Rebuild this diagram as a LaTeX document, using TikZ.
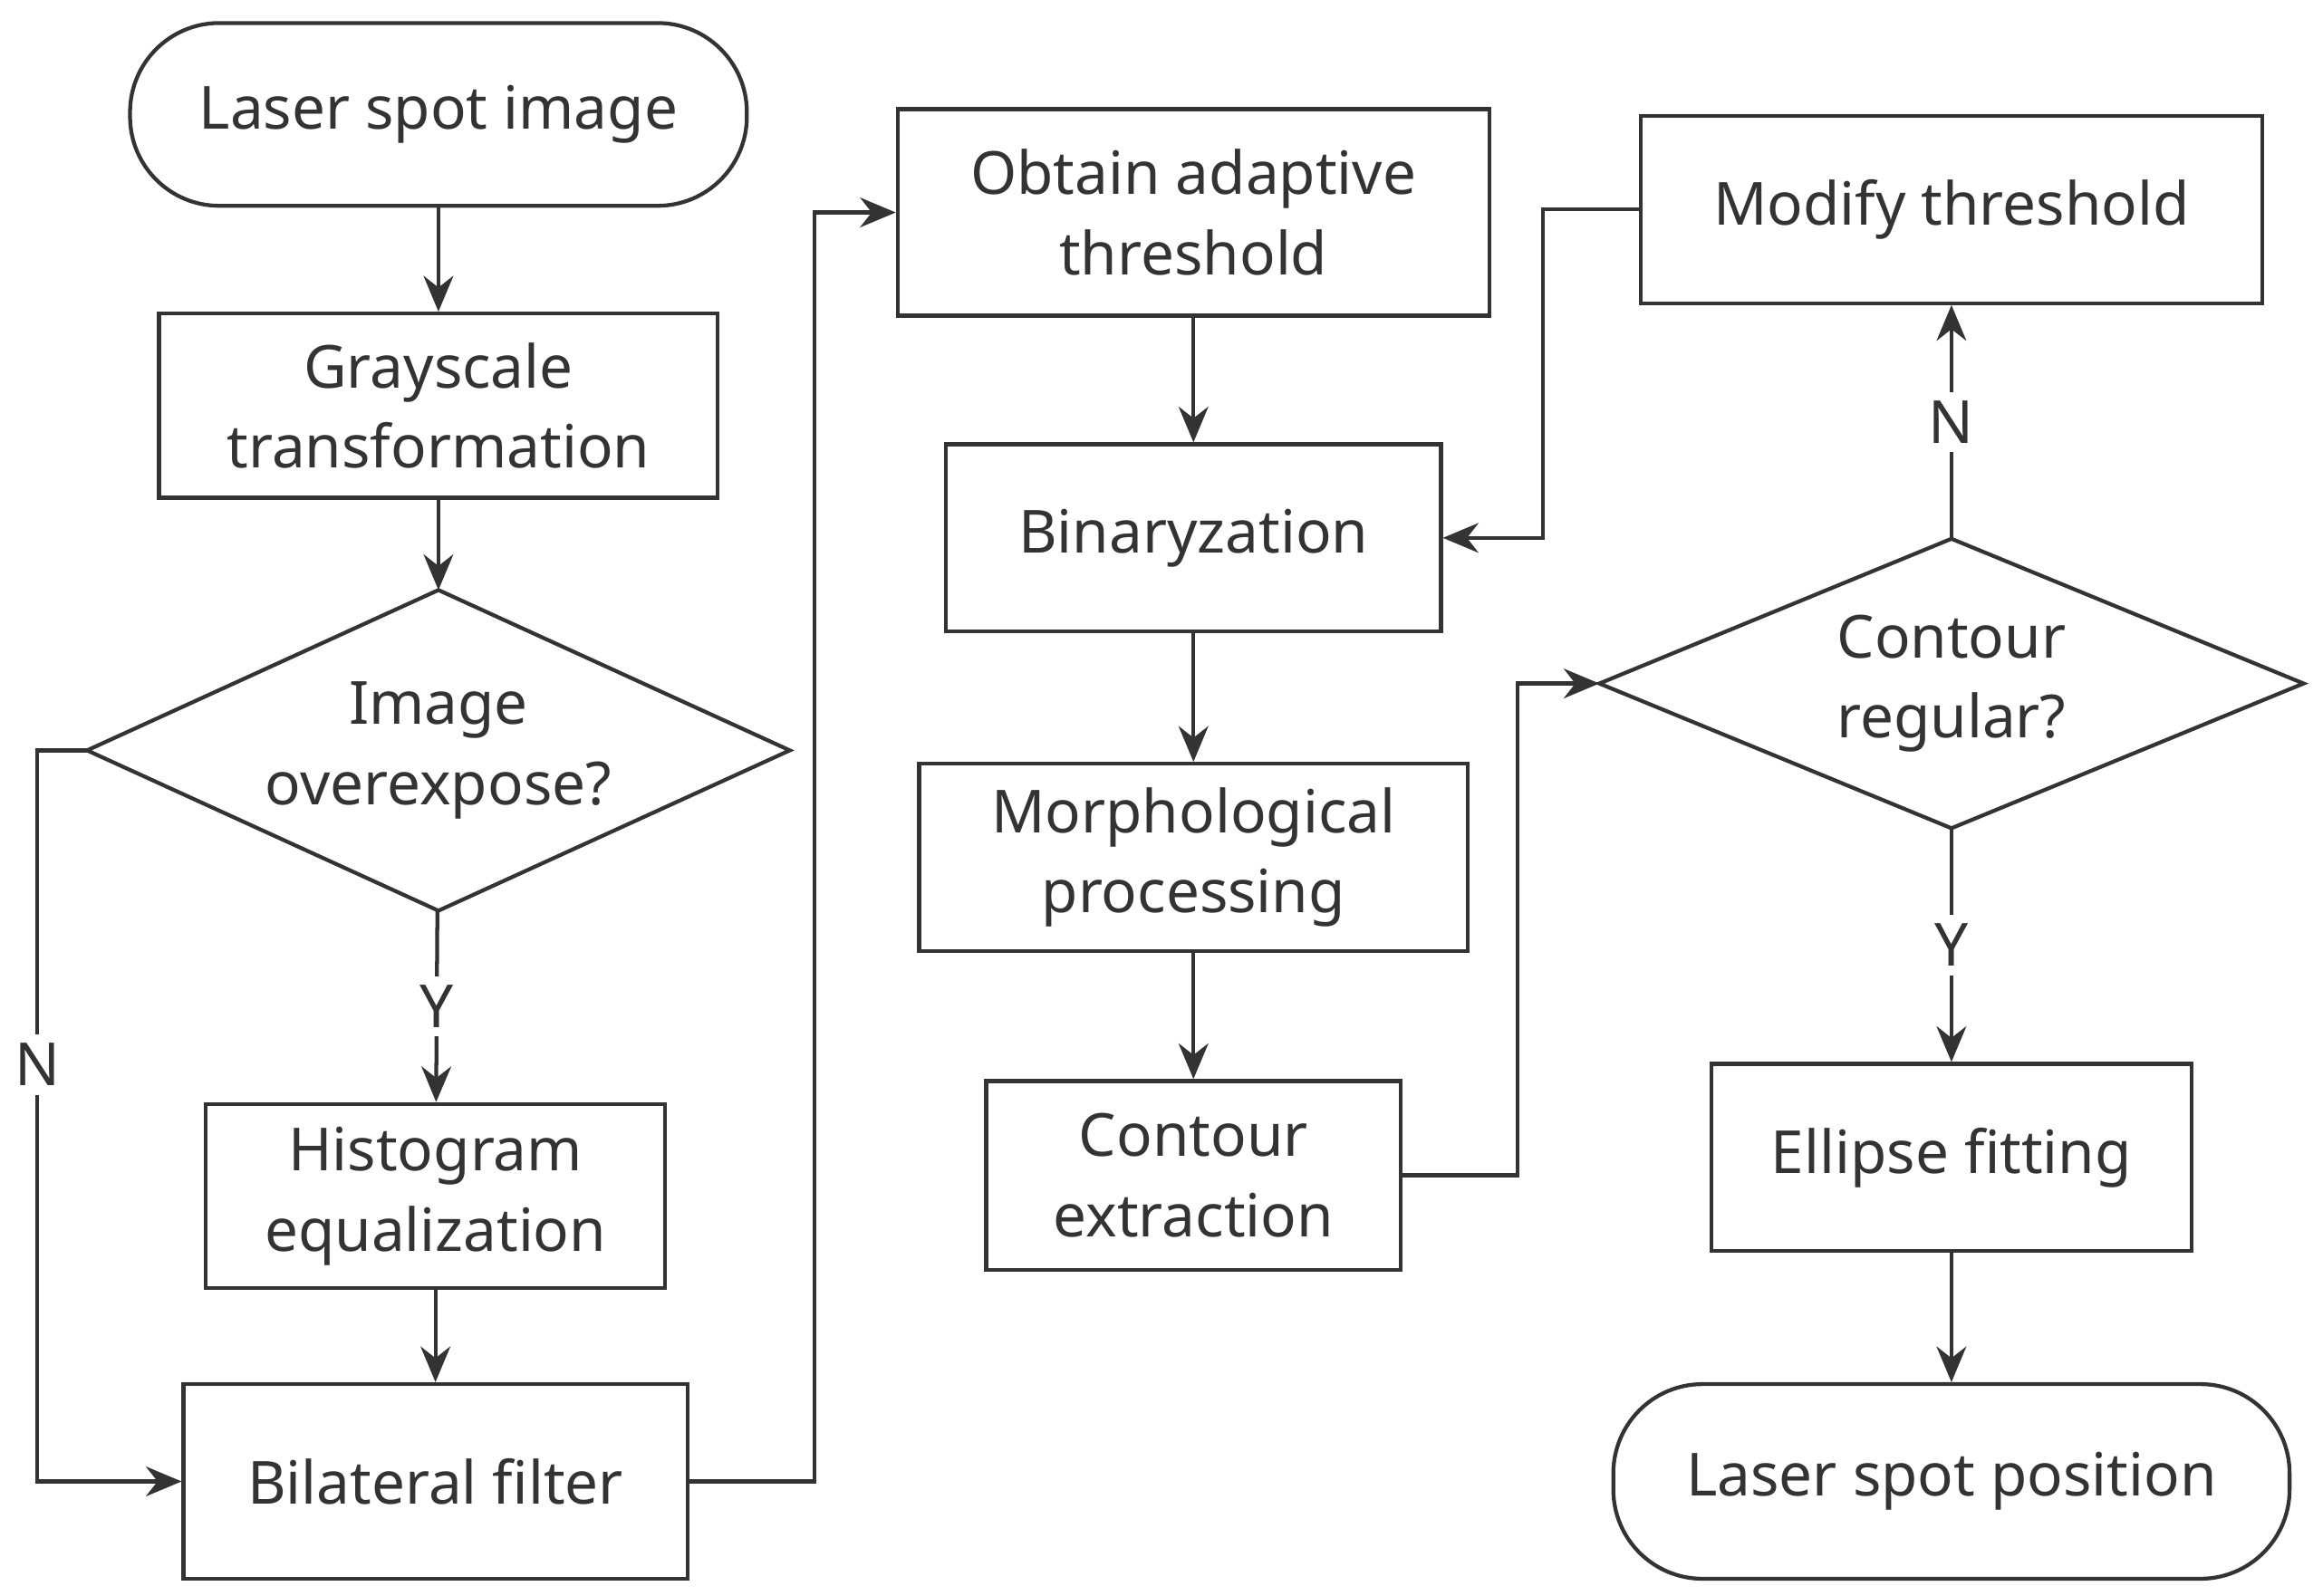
\documentclass[tikz,border=0pt]{standalone}
\usepackage{fontspec}
\setmainfont{Noto Sans}
\usetikzlibrary{shapes.geometric,arrows.meta}
\definecolor{ln}{HTML}{333333}
\begin{document}
\begin{tikzpicture}[x=0.5pt,y=-0.5pt,
  every node/.style={text=ln,font=\fontsize{20}{27}\selectfont,align=center,inner sep=0pt},
  box/.style={draw=ln,line width=1.3pt,rectangle},
  term/.style={draw=ln,line width=1.3pt,rectangle,rounded corners=30pt},
  dia/.style={rectangle,append after command={\pgfextra{\draw[ln,line width=1.3pt] (\tikzlastnode.north)--(\tikzlastnode.east)--(\tikzlastnode.south)--(\tikzlastnode.west)--cycle;}}},
  ar/.style={draw=ln,line width=1.3pt,-{Stealth[length=12pt,width=10pt]}},
  lab/.style={fill=white,inner sep=3pt}]
\useasboundingbox (0,0) rectangle (1563,1074);
\node[term,minimum width=207.5pt,minimum height=61.5pt] (a) at (295,77) {Laser spot image};
\node[box,minimum width=188pt,minimum height=62pt] (b) at (295,273) {Grayscale\\transformation};
\node[dia,minimum width=236pt,minimum height=107.5pt] (c) at (295,505) {Image\\overexpose?};
\node[box,minimum width=154.5pt,minimum height=62pt] (d) at (293,805) {Histogram\\equalization};
\node[box,minimum width=169.5pt,minimum height=65.5pt] (e) at (293,997) {Bilateral filter};
\node[box,minimum width=199pt,minimum height=69.5pt] (f) at (803,143) {Obtain adaptive\\threshold};
\node[box,minimum width=166.5pt,minimum height=63pt] (g) at (803,362) {Binaryzation};
\node[box,minimum width=184.5pt,minimum height=63pt] (h) at (803,577) {Morphological\\processing};
\node[box,minimum width=139.5pt,minimum height=63.5pt] (i) at (803,791) {Contour\\extraction};
\node[box,minimum width=209pt,minimum height=63pt] (j) at (1313,141) {Modify threshold};
\node[dia,minimum width=236.5pt,minimum height=97pt] (k) at (1313,460) {Contour\\regular?};
\node[box,minimum width=161.5pt,minimum height=63pt] (l) at (1313,779) {Ellipse fitting};
\node[term,minimum width=227.5pt,minimum height=65.5pt] (m) at (1313,997) {Laser spot position};
\draw[ar] (a) -- (b);
\draw[ar] (b) -- (c);
\draw[ar] (c) -- node[lab] {Y} (d);
\draw[ar] (d) -- (e);
\coordinate (n1) at (25,505); \coordinate (n2) at (25,997);
\draw[ar] (c.west) -- (n1) -- node[lab,pos=0.43] {N} (n2) -- (e.west);
\coordinate (p1) at (548,997);
\draw[ar] (e.east) -- (p1) |- (f.west);
\draw[ar] (f) -- (g);
\draw[ar] (g) -- (h);
\draw[ar] (h) -- (i);
\coordinate (q1) at (1021,791);
\draw[ar] (i.east) -- (q1) |- (k.west);
\draw[ar] (k) -- node[lab] {N} (j);
\coordinate (r1) at (1038,141);
\draw[ar] (j.west) -- (r1) |- (g.east);
\draw[ar] (k) -- node[lab] {Y} (l);
\draw[ar] (l) -- (m);
\end{tikzpicture}
\end{document}
